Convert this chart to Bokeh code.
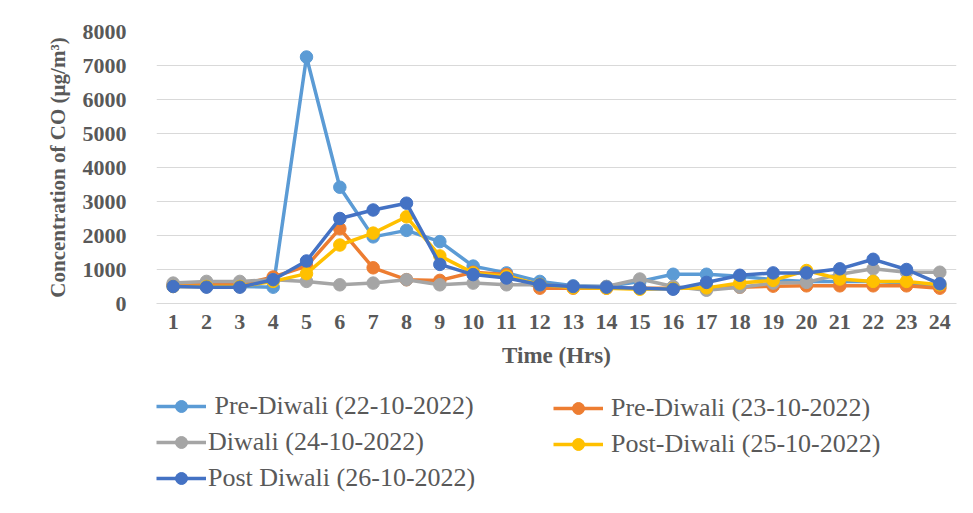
from bokeh.plotting import figure
from bokeh.models import Legend, LegendItem, FixedTicker, Range1d
from bokeh.layouts import column
from bokeh.embed import file_html
from bokeh.resources import INLINE

hours = [str(h) for h in range(1, 25)]
y_ticks = [0, 1000, 2000, 3000, 4000, 5000, 6000, 7000, 8000]

pre_diwali_22 = [530, 500, 500, 480, 7250, 3420, 1960, 2150, 1820, 1100, 900, 650,
                 520, 500, 650, 860, 860, 800, 700, 650, 650, 650, 600, 500]
pre_diwali_23 = [550, 550, 550, 780, 1100, 2200, 1050, 700, 680, 920, 850, 450,
                 450, 450, 450, 450, 450, 480, 510, 520, 520, 520, 520, 450]
diwali_24 = [600, 650, 650, 700, 650, 550, 600, 700, 550, 600, 550, 550,
             500, 500, 720, 500, 390, 480, 600, 620, 860, 1020, 920, 920]
post_diwali_25 = [500, 500, 500, 650, 880, 1720, 2070, 2550, 1400, 900, 800, 560,
                  460, 450, 420, 440, 460, 600, 680, 970, 720, 650, 650, 550]
post_diwali_26 = [500, 480, 480, 700, 1250, 2500, 2750, 2950, 1150, 850, 750, 550,
                  500, 480, 450, 420, 620, 830, 900, 900, 1020, 1300, 1000, 580]

labels = [" Pre-Diwali (22-10-2022)", "Pre-Diwali (23-10-2022)", "Diwali (24-10-2022)",
          "Post-Diwali (25-10-2022)", "Post Diwali (26-10-2022)"]
series = [pre_diwali_22, pre_diwali_23, diwali_24, post_diwali_25, post_diwali_26]
colors = ["#5B9BD5", "#ED7D31", "#A5A5A5", "#FFC000", "#4472C4"]

W = 965
p = figure(width=W, height=380, x_range=hours, y_range=(0, 8000),
           output_backend="svg", toolbar_location=None,
           min_border_left=156, min_border_right=9, min_border_top=31, min_border_bottom=77)
p.x_range.range_padding = 0
p.outline_line_color = None

p.xgrid.grid_line_color = None
p.ygrid.grid_line_color = "#d9d9d9"
p.ygrid.grid_line_width = 1

p.yaxis.ticker = FixedTicker(ticks=y_ticks)
p.yaxis.axis_line_color = None
p.yaxis.major_tick_line_color = None
p.yaxis.minor_tick_line_color = None
p.yaxis.major_label_standoff = 24
p.yaxis.axis_label = "Concentration of CO (µg/m³)"

p.xaxis.axis_line_color = "#d9d9d9"
p.xaxis.major_tick_line_color = None
p.xaxis.major_label_standoff = 5
p.xaxis.axis_label = "Time (Hrs)"

for ax in (p.xaxis, p.yaxis):
    ax.major_label_text_font = "Liberation Serif"
    ax.major_label_text_font_style = "bold"
    ax.major_label_text_font_size = "22px"
    ax.major_label_text_color = "#595959"
    ax.axis_label_text_font = "Liberation Serif"
    ax.axis_label_text_font_style = "bold"
    ax.axis_label_text_color = "#595959"
p.xaxis.axis_label_text_font_size = "23px"
p.yaxis.axis_label_text_font_size = "21px"
p.xaxis.axis_label_standoff = 11
p.yaxis.axis_label_standoff = 10

for vals, col in zip(series, colors):
    p.line(hours, vals, line_color=col, line_width=3.5)
    p.scatter(hours, vals, size=12.5, fill_color=col, line_color=col)

# legend panel below the chart (its frame is aligned with the chart's frame)
p2 = figure(width=W, height=125, x_range=Range1d(0, 800), y_range=Range1d(0, 125),
            output_backend="svg", toolbar_location=None, x_axis_type=None, y_axis_type=None,
            min_border_left=156, min_border_right=9, min_border_top=0, min_border_bottom=0)
p2.outline_line_color = None
p2.grid.visible = False

items = []
for lab, col in zip(labels, colors):
    r1 = p2.line(x=[-5000, -4000], y=[-5000, -5000], line_color=col, line_width=3.5)
    r2 = p2.scatter(x=[-5000], y=[-5000], size=12.5, fill_color=col, line_color=col)
    items.append(LegendItem(label=lab, renderers=[r1, r2]))

def make_legend(its, loc, standoff):
    return Legend(items=its, location=loc, orientation="vertical",
                  label_text_font="Liberation Serif", label_text_font_size="26px",
                  label_text_color="#595959", glyph_width=50, glyph_height=30,
                  label_height=30, spacing=6, label_standoff=standoff, padding=0, margin=0,
                  border_line_color=None, background_fill_alpha=0)

p2.add_layout(make_legend([items[0], items[2], items[4]], (0, 12), 2))
p2.add_layout(make_legend([items[1], items[3]], (397, 46), 8))

layout = column(p, p2, spacing=0)
open("out.html", "w").write(file_html(layout, INLINE))
